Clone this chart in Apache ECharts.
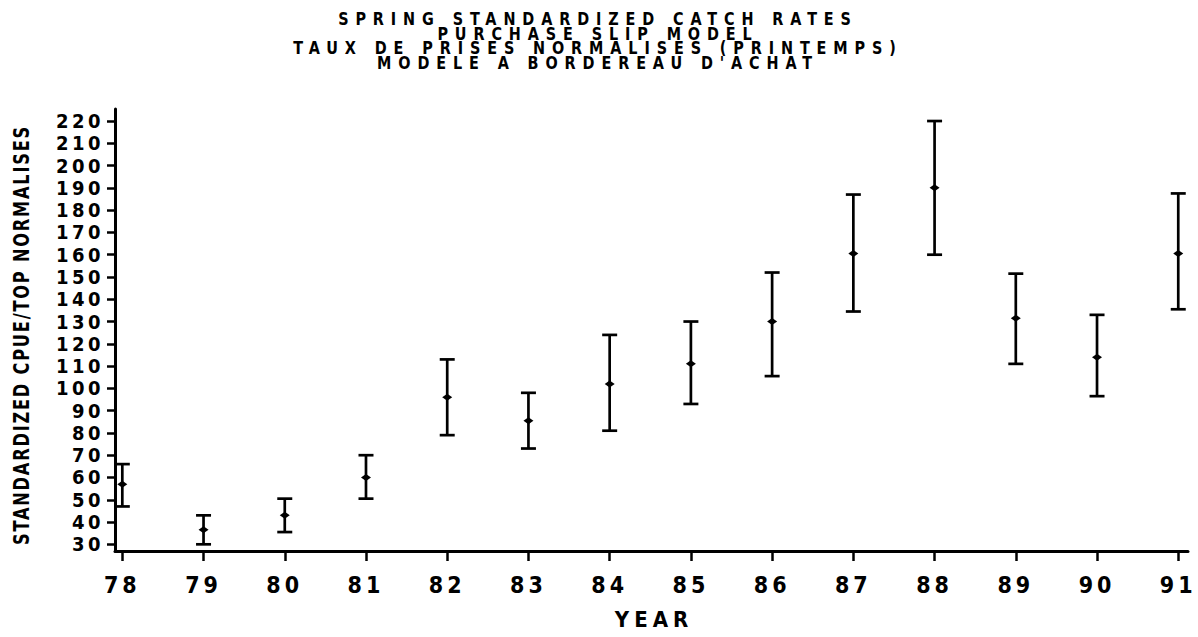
<!DOCTYPE html>
<html>
<head>
<meta charset="utf-8">
<title>Spring standardized catch rates</title>
<script src="https://cdn.jsdelivr.net/npm/echarts@6/dist/echarts.min.js"></script>
<style>
  html, body { margin: 0; padding: 0; background: #fff; }
  #chart { width: 1198px; height: 637px; }
  /* wide typewriter-style tracking, keyed on each text style's font size */
  #chart text[style*="16px"] { letter-spacing: 6.9px; }
  #chart text[style*="23px"] { letter-spacing: 4px; }
  #chart text[style*="20px"] { letter-spacing: 3.5px; }
  #chart text[style*="18px"] { letter-spacing: 1.8px; }
  #chart text[style*="22px"] { letter-spacing: 5px; }
</style>
</head>
<body>
<div id="chart"></div>
<script>
// Year of each survey (19xx)
const years = [78, 79, 80, 81, 82, 83, 84, 85, 86, 87, 88, 89, 90, 91];
// Standardized CPUE point estimates
const cpue = [57, 36.5, 43, 60, 96, 85.5, 102, 111, 130, 160.5, 190, 131.5, 114, 160.5];
// Lower and upper confidence limits
const lower = [47, 30, 35.5, 50.5, 79, 73, 81, 93, 105.5, 134.5, 160, 111, 96.5, 135.5];
const upper = [66, 43, 50.5, 70, 113, 98, 124, 130, 152, 187, 220, 151.5, 133, 187.5];
// Tick values on the CPUE axis
const yTicks = [30, 40, 50, 60, 70, 80, 90, 100, 110, 120, 130, 140, 150, 160, 170, 180, 190, 200, 210, 220];

const titleLines = [
  'SPRING STANDARDIZED CATCH RATES',
  'PURCHASE SLIP MODEL',
  'TAUX DE PRISES NORMALISES (PRINTEMPS)',
  "MODELE A BORDEREAU D'ACHAT"
];
const yName = 'STANDARDIZED CPUE/TOP NORMALISES';
const xName = 'YEAR';

const FONT = '"DejaVu Sans Condensed", "DejaVu Sans", sans-serif';
const INK = '#000';

const rows = years.map((y, i) => [y, lower[i], upper[i], cpue[i]]);

// Title block: four centred lines of narrow capitals
const titleGraphics = titleLines.map((line, i) => ({
  type: 'text',
  x: 598,
  y: 19.5 + i * 14.5,
  scaleY: 1.08,
  style: {
    text: line, align: 'center', verticalAlign: 'middle',
    font: 'bold 16px ' + FONT, fill: INK
  }
}));

const chart = echarts.init(document.getElementById('chart'), null, { renderer: 'svg' });

chart.setOption({
  animation: false,
  backgroundColor: '#fff',
  grid: { left: 115, right: 10, top: 109, bottom: 86, containLabel: false },
  xAxis: {
    type: 'value',
    min: 77.91,
    max: 91.12,
    axisLine: { show: true, lineStyle: { color: INK, width: 3 } },
    axisTick: { show: true, customValues: years, length: 10, inside: false, lineStyle: { color: INK, width: 2.5 } },
    axisLabel: {
      customValues: years,
      formatter: v => String(v),
      margin: 22,
      fontFamily: FONT, fontWeight: 'bold', fontSize: 23, color: INK
    },
    splitLine: { show: false }
  },
  yAxis: {
    type: 'value',
    min: 27,
    max: 225.4,
    axisLine: { show: true, lineStyle: { color: INK, width: 3 } },
    axisTick: { show: true, customValues: yTicks, length: 8, inside: false, lineStyle: { color: INK, width: 2.5 } },
    axisLabel: {
      customValues: yTicks,
      formatter: v => String(v),
      margin: 11,
      fontFamily: FONT, fontWeight: 'bold', fontSize: 20, color: INK
    },
    splitLine: { show: false }
  },
  graphic: titleGraphics.concat([
    {
      type: 'text',
      x: 22, y: 335,
      rotation: Math.PI / 2,
      scaleY: 1.2,
      style: {
        text: yName, align: 'center', verticalAlign: 'middle',
        font: 'bold 18px ' + FONT, fill: INK
      }
    },
    {
      type: 'text',
      x: 654, y: 619,
      style: {
        text: xName, align: 'center', verticalAlign: 'middle',
        font: 'bold 22px ' + FONT, fill: INK
      }
    }
  ]),
  series: [{
    type: 'custom',
    data: rows,
    encode: { x: 0, y: [1, 2, 3] },
    renderItem: function (params, api) {
      const lo = api.coord([api.value(0), api.value(1)]);
      const hi = api.coord([api.value(0), api.value(2)]);
      const mid = api.coord([api.value(0), api.value(3)]);
      const hw = 7.5;
      const lineStyle = { stroke: INK, lineWidth: 2.7 };
      return {
        type: 'group',
        children: [
          { type: 'line', shape: { x1: lo[0], y1: lo[1], x2: hi[0], y2: hi[1] }, style: lineStyle },
          { type: 'line', shape: { x1: hi[0] - hw, y1: hi[1], x2: hi[0] + hw, y2: hi[1] }, style: lineStyle },
          { type: 'line', shape: { x1: lo[0] - hw, y1: lo[1], x2: lo[0] + hw, y2: lo[1] }, style: lineStyle },
          {
            type: 'polygon',
            shape: { points: [[mid[0] - 5, mid[1]], [mid[0], mid[1] - 3.5], [mid[0] + 5, mid[1]], [mid[0], mid[1] + 3.5]] },
            style: { fill: INK }
          }
        ]
      };
    }
  }]
});
</script>
</body>
</html>
